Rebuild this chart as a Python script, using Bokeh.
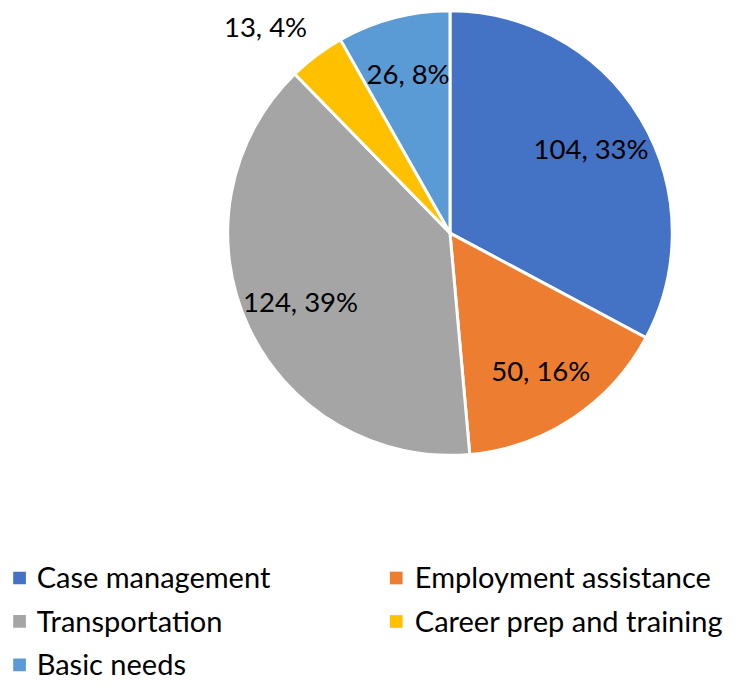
import math
from bokeh.plotting import figure
from bokeh.models import Range1d, ColumnDataSource
from bokeh.core.properties import value
from bokeh.embed import file_html
from bokeh.resources import INLINE

# ---- data ----
categories = ["Case management", "Employment assistance", "Transportation",
              "Career prep and training", "Basic needs"]
counts = [104, 50, 124, 13, 26]
colors = ["#4472C4", "#ED7D31", "#A5A5A5", "#FFC000", "#5B9BD5"]

# ---- layout (pixels) ----
W, H = 727, 684
SCALE = H / 700.0          # fit the 743x700 design into the 727x684 area
FONT = "Lato"
LABEL_SIZE = "27.5px"
LEGEND_SIZE = "29px"


def px(x):
    return x * SCALE


def py(y):
    return H - y * SCALE


CX, CY, R = px(460), py(238), 227.5 * SCALE

total = sum(counts)
start_a, end_a = [], []
lab_x, lab_y, lab_txt, lab_align, lab_base = [], [], [], [], []
cum = 0
for c in counts:
    f0 = cum / total
    cum += c
    f1 = cum / total
    a0 = math.pi / 2 - 2 * math.pi * f0
    a1 = math.pi / 2 - 2 * math.pi * f1
    start_a.append(a0)
    end_a.append(a1)
    mid = (a0 + a1) / 2
    frac = c / total
    lab_txt.append(f"{c}, {round(frac * 100)}%")
    if frac < 0.06:
        r = 1.07 * R
        lab_align.append("right" if math.cos(mid) < 0 else "left")
        lab_base.append("bottom" if math.sin(mid) > 0 else "top")
    else:
        r = 0.74 * R
        lab_align.append("center")
        lab_base.append("middle")
    lab_x.append(CX + r * math.cos(mid))
    lab_y.append(CY + r * math.sin(mid))

pie_src = ColumnDataSource(dict(cat=categories, start=start_a, end=end_a, color=colors))
lab_src = ColumnDataSource(dict(x=lab_x, y=lab_y, text=lab_txt, align=lab_align, base=lab_base))

p = figure(width=W, height=H, output_backend="svg", toolbar_location=None,
           x_range=Range1d(0, W), y_range=Range1d(0, H),
           x_axis_location=None, y_axis_location=None, min_border=0)
p.outline_line_color = None
p.background_fill_color = "white"
p.border_fill_color = "white"
p.xgrid.visible = False
p.ygrid.visible = False

p.wedge(x=CX, y=CY, radius=R, start_angle="start", end_angle="end",
        direction="clock", fill_color="color", line_color="white",
        line_width=3, source=pie_src)

p.text(x="x", y="y", text="text", text_align="align", text_baseline="base",
       text_font=value(FONT), text_font_size=LABEL_SIZE, text_color="black",
       source=lab_src)

# ---- legend (two columns) ----
col_sq = [px(19.5), px(405)]
col_tx = [px(37), px(424)]
rows = [py(591), py(635.5), py(680)]
leg_sx, leg_sy, leg_tx, leg_ty = [], [], [], []
for i, cat in enumerate(categories):
    r_i, c_i = divmod(i, 2)
    leg_sx.append(col_sq[c_i])
    leg_sy.append(rows[r_i])
    leg_tx.append(col_tx[c_i])
    leg_ty.append(rows[r_i] + 1)

leg_src = ColumnDataSource(dict(sx=leg_sx, sy=leg_sy, tx=leg_tx, ty=leg_ty,
                                cat=categories, color=colors))
p.scatter(x="sx", y="sy", marker="square", size=13 * SCALE, fill_color="color",
          line_color=None, source=leg_src)
p.text(x="tx", y="ty", text="cat", text_align="left", text_baseline="middle",
       text_font=value(FONT), text_font_size=LEGEND_SIZE, text_color="black",
       source=leg_src)

open("out.html", "w").write(file_html(p, INLINE))
